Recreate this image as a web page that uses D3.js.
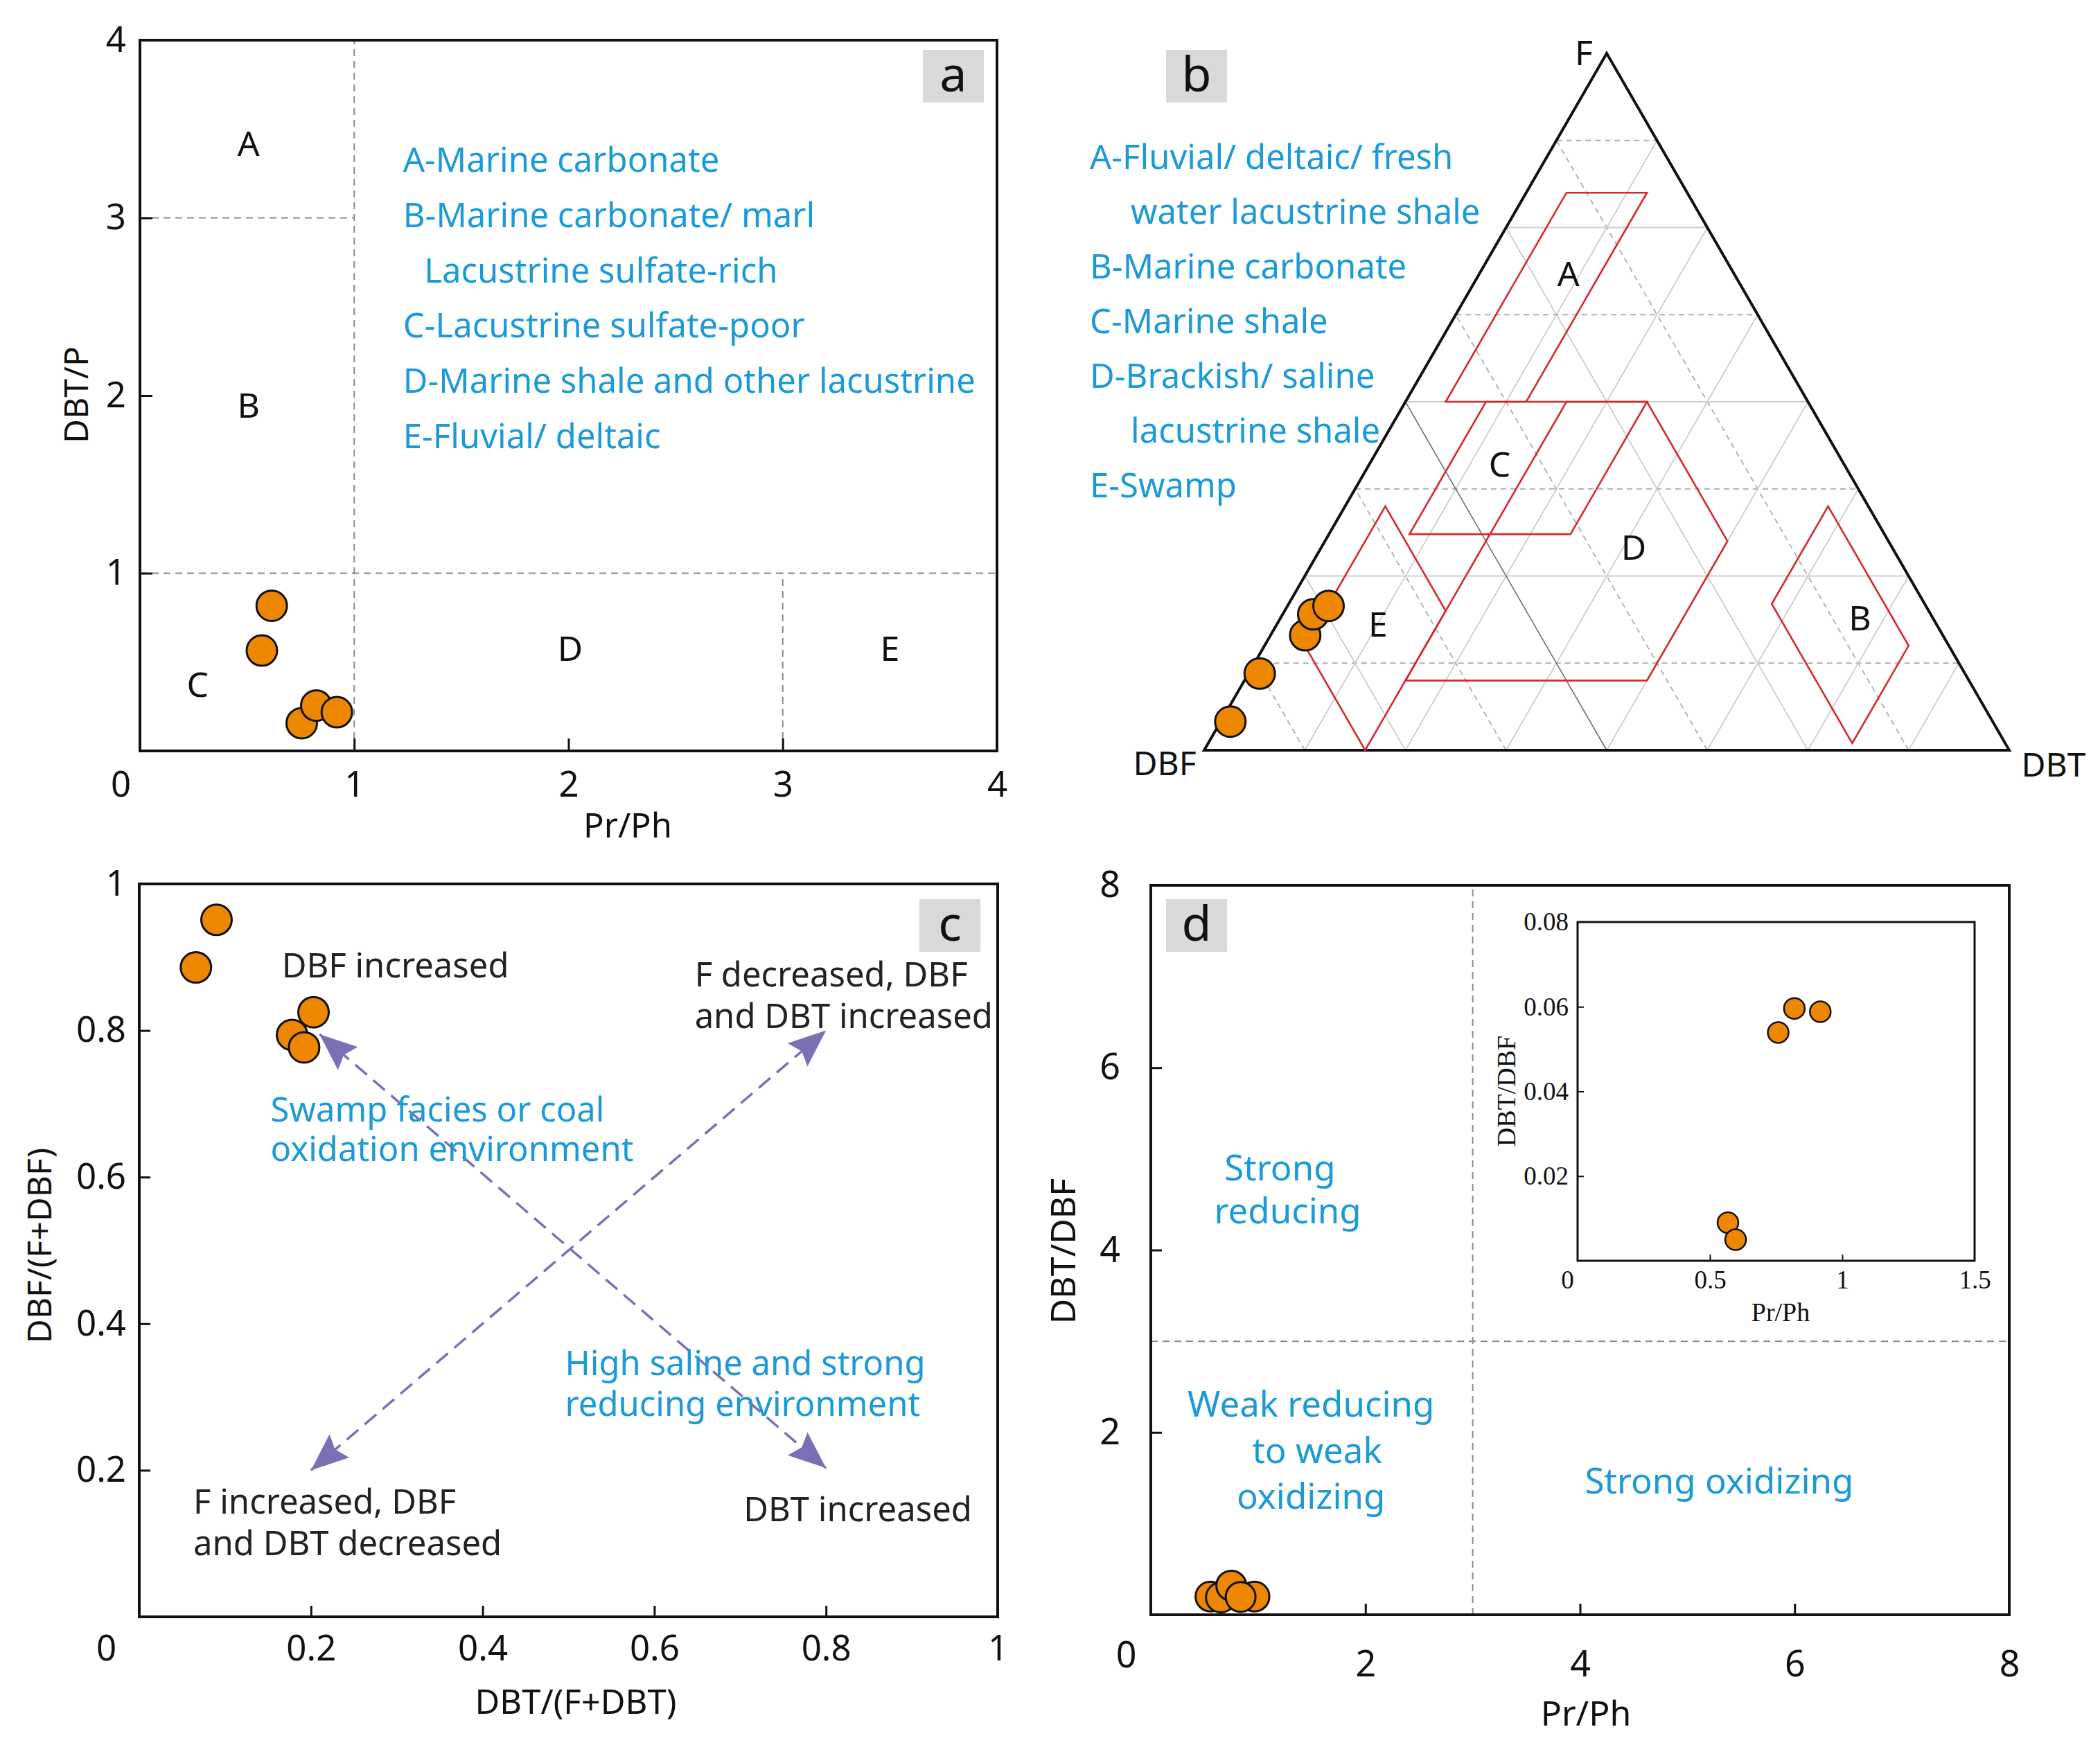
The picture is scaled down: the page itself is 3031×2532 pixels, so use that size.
<!DOCTYPE html>
<html>
<head>
<meta charset="utf-8">
<script src="https://cdn.jsdelivr.net/npm/d3@7"></script>
<style>
  body { margin: 0; background: #fff; }
</style>
</head>
<body>
<svg id="fig"></svg>
<script>
// ---- data ----
// (a) Pr/Ph vs DBT/P
const prphA = [0.615, 0.569, 0.755, 0.823, 0.919];
const dbtpA = [0.817, 0.565, 0.156, 0.255, 0.218];

// (b) ternary, fractions of F and DBT (DBF is the rest)
const ternF = [0.041, 0.110, 0.165, 0.195, 0.207];
const ternDBT = [0.012, 0.014, 0.043, 0.038, 0.051];

// (c) DBT/(F+DBT) vs DBF/(F+DBF)
const dbtRatioC = [0.090, 0.066, 0.178, 0.203, 0.192];
const dbfRatioC = [0.951, 0.886, 0.794, 0.825, 0.777];

// (d) Pr/Ph vs DBT/DBF, main plot and inset
const prphD = [0.556, 0.653, 0.750, 0.966, 0.837];
const dbtdbfD = [0.20, 0.19, 0.32, 0.20, 0.195];
const prphInset = [0.819, 0.917, 0.758, 0.568, 0.597];
const dbtdbfInset = [0.0596, 0.0588, 0.0539, 0.0090, 0.0050];

// ternary fields, vertices as [F, DBT]
const zonesB = {
  A: [[0.8, 0.05], [0.8, 0.15], [0.5, 0.15], [0.5, 0.05]],
  B: [[0.35, 0.6], [0.15, 0.8], [0.01, 0.8], [0.21, 0.6]],
  C: [[0.5, 0.1], [0.5, 0.3], [0.31, 0.3], [0.31, 0.1]],
  D: [[0.5, 0.2], [0.5, 0.3], [0.3, 0.5], [0.1, 0.5], [0.1, 0.2]],
  E: [[0.35, 0.05], [0.2, 0.2], [0, 0.2], [0.15, 0.05]],
};
const zoneLabelsB = [["A", 0.683, 0.111], ["B", 0.189, 0.72], ["C", 0.41, 0.162], ["D", 0.291, 0.388], ["E", 0.18, 0.126]];

const zoneLabelsA = [["A", 0.507, 3.418], ["B", 0.507, 1.942], ["C", 0.269, 0.373], ["D", 2.008, 0.575], ["E", 3.5, 0.575]];
const boundsA = [[[1, 0], [1, 4]], [[0, 3], [1, 3]], [[0, 1], [4, 1]], [[3, 0], [3, 1]]];
const boundsD = [[[3, 0], [3, 8]], [[0, 3], [8, 3]]];

const legendA = ["A-Marine carbonate", "B-Marine carbonate/ marl", "Lacustrine sulfate-rich",
  "C-Lacustrine sulfate-poor", "D-Marine shale and other lacustrine", "E-Fluvial/ deltaic"];
const legendB = ["A-Fluvial/ deltaic/ fresh", "water lacustrine shale", "B-Marine carbonate",
  "C-Marine shale", "D-Brackish/ saline", "lacustrine shale", "E-Swamp"];

const arrowsC = [[[0.2, 0.2], [0.8, 0.8]], [[0.21, 0.795], [0.8, 0.203]]];
// text blocks: [lines, x, y of each line, colour]
const notesC = [
  [["DBF increased"], 0.166, [0.889], "k"],
  [["F decreased, DBF", "and DBT increased"], 0.647, [0.876, 0.82], "k"],
  [["Swamp facies or coal", "oxidation environment"], 0.153, [0.692, 0.638], "b"],
  [["High saline and strong", "reducing environment"], 0.496, [0.346, 0.29], "b"],
  [["F increased, DBF", "and DBT decreased"], 0.063, [0.157, 0.1005], "k"],
  [["DBT increased"], 0.704, [0.147], "k"],
];
const notesD = [
  [["Strong", "reducing"], [1.204, 1.276], [4.898, 4.425]],
  [["Weak reducing", "to weak", "oxidizing"], [1.493, 1.55, 1.493], [2.312, 1.802, 1.30]],
  [["Strong oxidizing"], [5.298], [1.467]],
];

// ---- setup ----
const W = 3031, H = 2532;
const BLUE = "#1b9ad6", ORANGE = "#ee8700", RED = "#d8262c", PURPLE = "#7a70b5", INK = "#111";
const SANS = "'Noto Sans', 'Open Sans', sans-serif";
const SERIF = "'Liberation Serif', 'DejaVu Serif', serif";

const svg = d3.select("#fig")
  .attr("width", W).attr("height", H)
  .attr("viewBox", `0 0 ${W} ${H}`)
  .style("font-family", SANS);

function text(x, y, str, o = {}) {
  return svg.append("text")
    .attr("x", x).attr("y", y).attr("dy", "0.35em")
    .attr("text-anchor", o.anchor || "start")
    .attr("font-size", o.size || 49)
    .attr("font-family", o.family || SANS)
    .attr("fill", o.fill || INK)
    .text(str);
}

// several lines in one text element
function block(xs, ys, strs, o = {}) {
  const t = svg.append("text")
    .attr("text-anchor", o.anchor || "start")
    .attr("font-size", o.size || 49)
    .attr("fill", o.fill || INK);
  strs.forEach((s, i) => {
    t.append("tspan").attr("x", xs[i]).attr("y", ys[i]).attr("dy", "0.35em").text(s);
  });
  return t;
}

function vtext(x, y, str, o = {}) {
  return svg.append("text")
    .attr("transform", `translate(${x},${y}) rotate(-90)`)
    .attr("dy", "0.35em").attr("text-anchor", "middle")
    .attr("font-size", o.size || 48)
    .attr("font-family", o.family || SANS)
    .attr("fill", INK)
    .text(str);
}

function tag(x, y, letter) {
  svg.append("rect").attr("x", x).attr("y", y).attr("width", 88).attr("height", 76).attr("fill", "#d9d9d9");
  svg.append("text").attr("x", x + 44).attr("y", y + 60)
    .attr("text-anchor", "middle").attr("font-size", 70).attr("fill", INK).text(letter);
}

function axes(x, y, o) {
  const g = svg.append("g");
  const bx = g.append("g")
    .attr("transform", `translate(0,${y.range()[0]})`)
    .call(d3.axisBottom(x).tickValues(o.xTicks).tickSize(-o.len).tickSizeOuter(0).tickFormat(d3.format("")));
  const ly = g.append("g")
    .attr("transform", `translate(${x.range()[0]},0)`)
    .call(d3.axisLeft(y).tickValues(o.yTicks).tickSize(-o.len).tickPadding(o.yPad).tickSizeOuter(0).tickFormat(d3.format("")));
  [bx, ly].forEach((a) => {
    a.attr("font-size", o.size).attr("font-family", o.family);
    a.select(".domain").remove();
    a.selectAll(".tick text").attr("fill", INK);
    a.selectAll(".tick line").attr("stroke", INK).attr("stroke-width", o.tw);
  });
  const [x0, x1] = x.domain();
  const [y0, y1] = y.domain();
  bx.selectAll(".tick line").attr("display", (d) => (d === x0 || d === x1 ? "none" : null));
  ly.selectAll(".tick line").attr("display", (d) => (d === y0 || d === y1 ? "none" : null));
  bx.selectAll(".tick text").attr("y", o.xOff).attr("dy", "0.35em");
  bx.selectAll(".tick text").filter((d) => d === 0).attr("x", o.zeroDx).attr("y", o.zeroOff || o.xOff);

  svg.append("rect")
    .attr("x", x.range()[0]).attr("y", y.range()[1])
    .attr("width", x.range()[1] - x.range()[0])
    .attr("height", y.range()[0] - y.range()[1])
    .attr("fill", "none").attr("stroke", INK).attr("stroke-width", o.fw);
}

function dots(xs, ys, x, y, r, sw) {
  svg.append("g").selectAll("circle")
    .data(xs.map((d, i) => [d, ys[i]]))
    .join("circle")
    .attr("cx", (d) => x(d[0])).attr("cy", (d) => y(d[1]))
    .attr("r", r).attr("fill", ORANGE).attr("stroke", INK).attr("stroke-width", sw);
}

function dashed(segs, x, y) {
  svg.append("g").selectAll("line")
    .data(segs).join("line")
    .attr("x1", (d) => x(d[0][0])).attr("y1", (d) => y(d[0][1]))
    .attr("x2", (d) => x(d[1][0])).attr("y2", (d) => y(d[1][1]))
    .attr("stroke", "#8a8a8a").attr("stroke-width", 2).attr("stroke-dasharray", "10,7");
}

// ---- (a) ----
const xa = d3.scaleLinear().domain([0, 4]).range([202, 1439]);
const ya = d3.scaleLinear().domain([0, 4]).range([1084, 58]);
dashed(boundsA, xa, ya);
axes(xa, ya, { xTicks: [0, 1, 2, 3, 4], yTicks: [1, 2, 3, 4], len: 18, yPad: 20, xOff: 48, zeroDx: -28,
  size: 51, family: SANS, tw: 3, fw: 4 });
zoneLabelsA.forEach(([t, x, y]) => text(xa(x), ya(y), t, { anchor: "middle", size: 50 }));
block(
  legendA.map((t) => xa(t.startsWith("Lacustrine") ? 1.327 : 1.228)),
  legendA.map((t, i) => ya(3.325 - i * 0.3106)),
  legendA, { fill: BLUE });
dots(prphA, dbtpA, xa, ya, 22, 3);
tag(1332, 72, "a");
text(842, 1192, "Pr/Ph");
vtext(110, 570, "DBT/P");

// ---- (b) ternary ----
const tx = d3.scaleLinear().domain([0, 1]).range([1738, 2900]);
const ty = d3.scaleLinear().domain([0, 1]).range([1083, 77]);
const tpos = (F, DBT) => [tx(DBT + F / 2), ty(F)];

const grid = [];
d3.range(1, 8).forEach((k) => {
  const f = k / 8;
  grid.push({ a: tpos(f, 0), b: tpos(f, 1 - f), s: k % 2 ? "dash" : "solid" });
  grid.push({ a: tpos(0, f), b: tpos(1 - f, f), s: "solid" });
  grid.push({ a: tpos(0, 1 - f), b: tpos(1 - f, 0), s: k === 4 ? "dark" : k % 2 ? "dash" : "solid" });
});
svg.append("g").selectAll("line")
  .data(grid).join("line")
  .attr("x1", (d) => d.a[0]).attr("y1", (d) => d.a[1])
  .attr("x2", (d) => d.b[0]).attr("y2", (d) => d.b[1])
  .attr("stroke", (d) => (d.s === "dark" ? "#6e6e6e" : d.s === "dash" ? "#adadad" : "#cdcdcd"))
  .attr("stroke-width", (d) => (d.s === "dark" ? 1.6 : 1.8))
  .attr("stroke-dasharray", (d) => (d.s === "dash" ? "8,6" : null));

svg.append("path")
  .attr("d", d3.line()([tpos(0, 0), tpos(1, 0), tpos(0, 1)]) + "Z")
  .attr("fill", "none").attr("stroke", INK).attr("stroke-width", 4).attr("stroke-linejoin", "miter");

svg.append("g").selectAll("path")
  .data(Object.values(zonesB)).join("path")
  .attr("d", (pts) => d3.line()(pts.map((p) => tpos(p[0], p[1]))) + "Z")
  .attr("fill", "none").attr("stroke", RED).attr("stroke-width", 2.6);

zoneLabelsB.forEach(([t, F, D]) => {
  const [px, py] = tpos(F, D);
  text(px, py, t, { anchor: "middle", size: 50 });
});
dots(ternF.map((f, i) => ternDBT[i] + f / 2), ternF, tx, ty, 22, 3);

text(2286, 76, "F", { anchor: "middle", size: 50 });
text(1681, 1102, "DBF", { anchor: "middle", size: 48 });
text(2964, 1104, "DBT", { anchor: "middle", size: 48 });
block(
  legendB.map((t) => (t === "water lacustrine shale" || t === "lacustrine shale" ? 1632 : 1573)),
  legendB.map((t, i) => 227 + i * 79),
  legendB, { fill: BLUE });
tag(1683, 72, "b");

// ---- (c) ----
const xc = d3.scaleLinear().domain([0, 1]).range([201, 1440]);
const yc = d3.scaleLinear().domain([0, 1]).range([2334, 1276]);

const defs = svg.append("defs");
defs.append("marker")
  .attr("id", "head").attr("viewBox", "0 -23 54 46")
  .attr("refX", 54).attr("refY", 0)
  .attr("markerUnits", "userSpaceOnUse")
  .attr("markerWidth", 54).attr("markerHeight", 46)
  .attr("orient", "auto-start-reverse")
  .append("path").attr("d", "M0,-22L54,0L0,22L8,0Z").attr("fill", PURPLE);

svg.append("g").selectAll("line")
  .data(arrowsC).join("line")
  .attr("x1", (d) => xc(d[0][0])).attr("y1", (d) => yc(d[0][1]))
  .attr("x2", (d) => xc(d[1][0])).attr("y2", (d) => yc(d[1][1]))
  .attr("stroke", PURPLE).attr("stroke-width", 3.5).attr("stroke-dasharray", "22,12")
  .attr("marker-start", "url(#head)").attr("marker-end", "url(#head)");

axes(xc, yc, { xTicks: [0, 0.2, 0.4, 0.6, 0.8, 1], yTicks: [0.2, 0.4, 0.6, 0.8, 1], len: 16, yPad: 19,
  xOff: 45, zeroDx: -48, size: 51, family: SANS, tw: 3, fw: 4 });
notesC.forEach(([lines, x, ys, c]) =>
  block(lines.map(() => xc(x)), ys.map((v) => yc(v)), lines, { fill: c === "b" ? BLUE : "#222" }));
dots(dbtRatioC, dbfRatioC, xc, yc, 22, 3);
tag(1327, 1298, "c");
text(831, 2457, "DBT/(F+DBT)", { anchor: "middle" });
vtext(57, 1798, "DBF/(F+DBF)");

// ---- (d) ----
const xd = d3.scaleLinear().domain([0, 8]).range([1661, 2900]);
const yd = d3.scaleLinear().domain([0, 8]).range([2331, 1278]);
dashed(boundsD, xd, yd);
axes(xd, yd, { xTicks: [0, 2, 4, 6, 8], yTicks: [2, 4, 6, 8], len: 16, yPad: 44, xOff: 71, zeroDx: -36,
  zeroOff: 58, size: 52, family: SANS, tw: 3, fw: 4 });
notesD.forEach(([lines, xs, ys]) =>
  block(xs.map((v) => xd(v)), ys.map((v) => yd(v)), lines, { anchor: "middle", fill: BLUE, size: 51 }));
dots(prphD, dbtdbfD, xd, yd, 21.5, 3);
tag(1683, 1298, "d");
text(2289, 2473, "Pr/Ph", { anchor: "middle", size: 50 });
vtext(1534, 1806, "DBT/DBF", { size: 50 });

// inset
const xi = d3.scaleLinear().domain([0, 1.5]).range([2277, 2850]);
const yi = d3.scaleLinear().domain([0, 0.08]).range([1820, 1331]);
axes(xi, yi, { xTicks: [0, 0.5, 1, 1.5], yTicks: [0.02, 0.04, 0.06, 0.08], len: 9, yPad: 13, xOff: 27,
  zeroDx: -15, size: 37, family: SERIF, tw: 2, fw: 3 });
dots(prphInset, dbtdbfInset, xi, yi, 15, 2.5);
text(2570, 1894, "Pr/Ph", { anchor: "middle", size: 38, family: SERIF });
vtext(2174, 1575, "DBT/DBF", { size: 38, family: SERIF });
</script>
</body>
</html>
